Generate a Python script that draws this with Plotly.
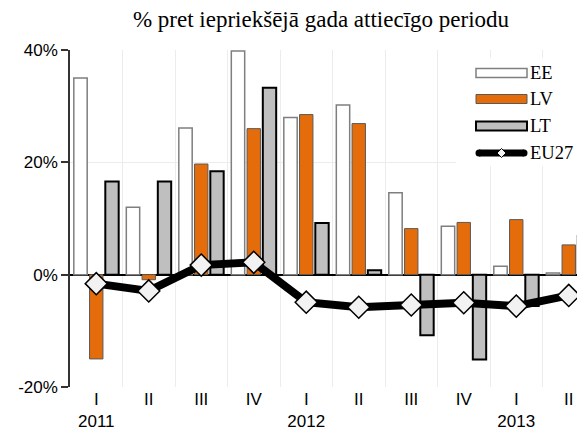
import plotly.graph_objects as go

quarters = ["I", "II", "III", "IV", "I", "II", "III", "IV", "I", "II"]
years = ["2011", "", "", "", "2012", "", "", "", "2013", ""]
ee = [35.0, 12.0, 26.1, 39.8, 28.0, 30.2, 14.6, 8.6, 1.5, 0.3]
lv = [-15.0, -0.9, 19.7, 26.0, 28.5, 26.9, 8.2, 9.3, 9.8, 5.3]
lt = [16.6, 16.6, 18.4, 33.3, 9.2, 0.8, -10.8, -15.1, -5.6, 6.9]
eu27 = [-1.6, -2.9, 1.7, 2.2, -4.9, -5.8, -5.4, -5.0, -5.6, -3.7]
series_names = ["EE", "LV", "LT", "EU27"]
y_tickvals = [-20, 0, 20, 40]
y_ticktext = ["-20%", "0%", "20%", "40%"]
title_text = "% pret iepriekšējā gada attiecīgo periodu"

# the page body has an 8px default margin; the figure is sized to fit the 585x430 window
OFF = 8
W, H = 585 - OFF, 430 - OFF
PL, PT, PB = 70, 50, 387          # plot-area edges in window pixels
L, T = PL - OFF, PT - OFF
B = H - (PB - OFF)
plot_w = W - L
plot_h = H - T - B
cat_px = 52.5

def fx(px):
    return (px - PL) / plot_w

def fy(py):
    return (PB - py) / plot_h

x = list(range(len(quarters)))
ticktext = [q if not y else f"{q}<br>{y}" for q, y in zip(quarters, years)]

serif = "Liberation Serif, Times New Roman, serif"
sans = "Liberation Sans, Arial, sans-serif"

fig = go.Figure()
fig.add_trace(go.Bar(x=x, y=ee, name="EE", marker=dict(color="white", line=dict(color="#7f7f7f", width=1.5))))
fig.add_trace(go.Bar(x=x, y=lv, name="LV", marker=dict(color="#E46C0A", line=dict(color="#595959", width=1))))
fig.add_trace(go.Bar(x=x, y=lt, name="LT", marker=dict(color="#BFBFBF", line=dict(color="black", width=2))))
fig.add_trace(go.Scatter(x=x, y=eu27, name="EU27", mode="lines+markers",
                         line=dict(color="black", width=8),
                         marker=dict(symbol="diamond", size=17, color="#F2F2F2",
                                     line=dict(color="black", width=1.5))))

shapes = []
# legend background
shapes.append(dict(type="rect", xref="paper", yref="paper", x0=fx(456), x1=fx(600), y0=fy(58), y1=fy(166),
                   fillcolor="white", line=dict(width=0), layer="above"))
sym_x0, sym_x1 = 476, 527
rows = [73, 99, 126, 153]
styles = [("white", "#7f7f7f", 1.5), ("#E46C0A", "#595959", 1), ("#BFBFBF", "black", 2)]
for cy, (fill, lc, lw) in zip(rows[:3], styles):
    shapes.append(dict(type="rect", xref="paper", yref="paper", x0=fx(sym_x0), x1=fx(sym_x1),
                       y0=fy(cy + 4.5), y1=fy(cy - 4.5), fillcolor=fill, line=dict(color=lc, width=lw),
                       layer="above"))
cy = rows[3]
shapes.append(dict(type="line", xref="paper", yref="paper", x0=fx(sym_x0 + 3), x1=fx(sym_x1 - 3),
                   y0=fy(cy), y1=fy(cy), line=dict(color="black", width=7), layer="above"))
for ex in (sym_x0 + 3, sym_x1 - 3):
    shapes.append(dict(type="circle", xref="paper", yref="paper", x0=fx(ex - 3.5), x1=fx(ex + 3.5),
                       y0=fy(cy + 3.5), y1=fy(cy - 3.5), fillcolor="black", line=dict(width=0), layer="above"))
mx = (sym_x0 + sym_x1) / 2
d = 4.5
shapes.append(dict(type="path", xref="paper", yref="paper",
                   path=f"M{fx(mx - d)},{fy(cy)} L{fx(mx)},{fy(cy - d)} L{fx(mx + d)},{fy(cy)} L{fx(mx)},{fy(cy + d)} Z",
                   fillcolor="#F2F2F2", line=dict(color="black", width=1), layer="above"))

annotations = []
for cy, name in zip(rows, series_names):
    annotations.append(dict(x=fx(530), y=fy(cy), xref="paper", yref="paper", text=name, showarrow=False,
                            xanchor="left", yanchor="middle", borderpad=0, borderwidth=0,
                            font=dict(family=serif, size=18.5, color="black")))

fig.update_layout(
    width=W, height=H,
    margin=dict(l=L, r=0, t=T, b=B, pad=0),
    paper_bgcolor="white", plot_bgcolor="white",
    barmode="group", bargap=0.1, bargroupgap=0.15,
    showlegend=False,
    title=dict(text=title_text, x=(321 - OFF) / W, xref="container", xanchor="center",
               y=1 - (19 - OFF) / H, yref="container", yanchor="middle",
               font=dict(family=serif, size=23, color="black")),
    shapes=shapes, annotations=annotations,
    xaxis=dict(range=[-0.5, -0.5 + plot_w / cat_px], tickvals=x, ticktext=ticktext,
               showgrid=False, zeroline=False, showline=False, ticks="",
               tickfont=dict(family=sans, size=17, color="black"),
               minor=dict(tickvals=[i + 0.5 for i in x], showgrid=True, gridcolor="#ececec", gridwidth=1, ticks="")),
    yaxis=dict(range=[-20, 40], tickvals=y_tickvals, ticktext=y_ticktext,
               showgrid=True, gridcolor="#ececec", gridwidth=1,
               zeroline=True, zerolinecolor="black", zerolinewidth=1.5,
               showline=True, linecolor="#333333", linewidth=1.5,
               ticks="outside", ticklen=7, tickcolor="#333333", tickwidth=1.5,
               tickfont=dict(family=sans, size=17, color="black")),
)

fig.write_html("out.html")
